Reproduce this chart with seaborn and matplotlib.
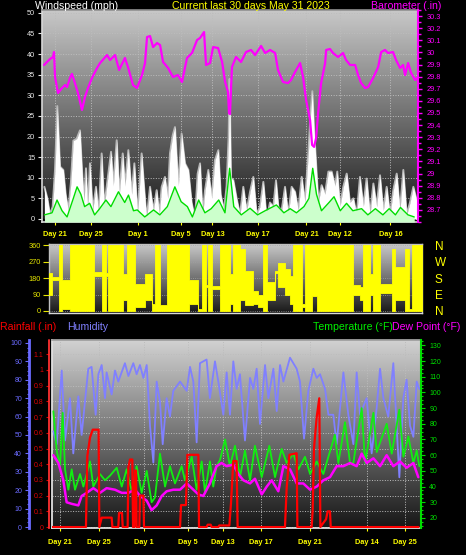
import numpy as np
import matplotlib
matplotlib.use("Agg")
import matplotlib.pyplot as plt
import seaborn as sns
from matplotlib.colors import LinearSegmentedColormap
from matplotlib.ticker import MultipleLocator

# ---------------- data ----------------
top_tick_days = [1.04, 3.9, 7.66, 11.1, 13.6, 17.2, 21.1, 23.8, 27.8]
top_tick_labels = ["Day 21", "Day 25", "Day 1", "Day 5", "Day 13", "Day 17", "Day 21", "Day 12", "Day 16"]
bot_tick_days = [0.65, 3.8, 7.5, 11.06, 13.9, 17.0, 21.0, 25.6, 28.7]
bot_tick_labels = ["Day 21", "Day 25", "Day 1", "Day 5", "Day 13", "Day 17", "Day 21", "Day 14", "Day 25"]

gust_day = [0.19, 0.43, 0.64, 0.85, 1.04, 1.22, 1.33, 1.44, 1.70, 1.89, 2.10, 2.31, 2.50, 2.77, 3.03, 3.19,
            3.35, 3.51, 3.64, 3.83, 4.04, 4.31, 4.52, 4.76, 4.97, 5.16, 5.51, 5.69, 5.96, 6.17, 6.44, 6.62,
            6.89, 7.15, 7.37, 7.63, 7.95, 8.14, 8.35, 8.62, 8.88, 9.15, 9.36, 9.55, 9.81, 10.03, 10.21,
            10.43, 10.61, 10.88, 11.14, 11.41, 11.68, 11.94, 12.21, 12.42, 12.61, 12.82, 13.01, 13.27,
            13.54, 13.80, 14.07, 14.26, 14.52, 14.73, 14.89, 14.97, 15.08, 15.27, 15.53, 15.80, 16.06,
            16.33, 16.60, 16.86, 17.13, 17.39, 17.66, 17.93, 18.19, 18.46, 18.67, 18.86, 19.12, 19.39,
            19.65, 19.92, 20.19, 20.45, 20.72, 20.98, 21.25, 21.44, 21.57, 21.70, 21.86, 22.05, 22.31,
            22.58, 22.85, 23.11, 23.38, 23.56, 23.78, 24.04, 24.31, 24.57, 24.84, 25.11, 25.37, 25.64,
            25.90, 26.17, 26.44, 26.70, 26.97, 27.23, 27.50, 27.77, 28.03, 28.30, 28.56, 28.83, 29.10,
            29.36, 29.63, 29.89]
gust_mph = [7.8, 5, 1, 3, 12, 27.4, 20, 12.7, 11.9, 6, 2, 9, 19, 19.5, 21.5, 12,
            4, 12.3, 2, 13.5, 2, 7.8, 1, 15.9, 3, 7.8, 16.3, 8, 19.1, 6, 15.9, 8,
            16.7, 6, 13.5, 1, 15.9, 8, 0, 7.8, 2, 7, 1, 7.8, 10.2, 5, 15.9,
            20.3, 22.3, 8, 20.7, 13.5, 11.9, 4, 0, 11, 13.5, 1, 7, 11.9,
            5, 14.3, 16.7, 6, 2, 8, 20, 34, 10, 9.4, 5, 1, 7.8,
            2, 6.6, 10.2, 1, 3, 9, 0, 4, 3, 9.4, 3, 2, 7.8,
            1, 7.8, 6.6, 2, 10.2, 4, 15.9, 26, 31, 22, 14, 4, 8.2,
            6, 11.5, 11.5, 8, 11.5, 3, 7.8, 11, 4, 5, 1, 10.2, 3,
            9.8, 1, 8.6, 3, 10.6, 2, 7.8, 1, 7, 11, 2, 11.9, 1,
            4, 7.8, 4.6]

speed_day = [0.2, 0.8, 1.2, 1.6, 2.0, 2.5, 2.8, 3.1, 3.4, 3.8, 4.2, 4.6, 5.1, 5.5, 6.1, 6.6, 6.9, 7.3,
             7.6, 8.2, 8.9, 9.4, 10.0, 10.6, 11.1, 11.6, 12.0, 12.5, 13.0, 13.5, 14.1, 14.6, 14.97, 15.3,
             15.9, 16.6, 17.2, 17.8, 18.7, 19.3, 19.8, 20.3, 20.9, 21.3, 21.6, 21.9, 22.3, 22.9, 23.3,
             23.8, 24.3, 24.8, 25.5, 26.0, 26.6, 27.2, 27.7, 28.2, 28.6, 29.2, 29.7]
speed_mph = [1, 1.5, 4.6, 2, 0.5, 5, 7.8, 6, 3, 3.8, 1, 2.5, 4.6, 3, 6.6, 4, 5.8, 2,
             2.2, 0.5, 2.2, 1, 3, 7.8, 4.2, 3, 0.5, 4.6, 1.5, 2.5, 4.6, 1.5, 12.3, 3,
             1, 2.6, 1, 2, 3.4, 1.5, 2.5, 1.5, 3, 5, 12.3, 6, 2, 4, 5.4,
             2, 3.8, 2, 2.5, 1, 2.5, 1, 2.5, 1, 2.8, 1, 0.5]

baro_day = [0.16, 0.40, 0.64, 0.88, 0.96, 1.04, 1.28, 1.60, 1.84, 2.0, 2.23, 2.39, 2.55, 2.87, 3.19, 3.43,
            3.67, 3.99, 4.39, 4.63, 5.19, 5.43, 5.83, 6.15, 6.62, 6.86, 7.26, 7.58, 7.98, 8.22, 8.38, 8.62,
            8.86, 9.18, 9.42, 9.66, 10.06, 10.45, 10.85, 11.17, 11.57, 11.97, 12.37, 12.61, 12.93, 13.09,
            13.41, 13.65, 14.05, 14.37, 14.61, 14.84, 14.92, 15.0, 15.1, 15.16, 15.48, 15.88, 16.28, 16.68,
            17.0, 17.48, 17.80, 18.20, 18.60, 18.83, 19.23, 19.63, 19.87, 20.19, 20.59, 20.83, 21.07, 21.39,
            21.55, 21.71, 21.87, 22.03, 22.27, 22.59, 22.67, 22.98, 23.22, 23.62, 24.02, 24.26, 24.58, 24.98,
            25.22, 25.46, 25.78, 26.02, 26.42, 26.82, 27.06, 27.37, 27.61, 28.01, 28.25, 28.57, 28.81, 28.97,
            29.21, 29.45, 29.77, 29.93]
baro_inhg = [29.896, 29.921, 29.945, 29.962, 30.003, 29.797, 29.665, 29.706, 29.731, 29.714, 29.789, 29.822,
             29.772, 29.665, 29.525, 29.632, 29.706, 29.789, 29.871, 29.912, 29.978, 29.937, 29.978, 29.855,
             29.954, 29.879, 29.731, 29.706, 29.813, 29.912, 30.127, 30.135, 30.044, 30.077, 30.061, 29.921,
             29.871, 29.797, 29.813, 29.756, 29.954, 29.995, 30.102, 30.119, 30.168, 29.896, 29.912, 30.044,
             30.036, 29.921, 29.756, 29.673, 29.5, 29.49, 29.75, 29.88, 29.962, 29.921, 30.003, 30.02,
             29.978, 30.053, 29.995, 30.02, 29.995, 29.855, 29.756, 29.747, 29.772, 29.838, 29.912, 29.797,
             29.607, 29.442, 29.236, 29.22, 29.294, 29.5, 29.747, 29.912, 30.02, 30.028, 29.995, 29.962,
             29.995, 29.937, 29.896, 29.896, 29.813, 29.747, 29.706, 29.714, 29.789, 29.879, 30.003, 30.02,
             29.995, 30.003, 29.937, 29.871, 29.896, 29.813, 29.912, 29.83, 29.772, 29.789]

dir_start = [0, 0.27, 0.80, 1.07, 1.69, 3.65, 4.24, 4.56, 4.72, 5.79, 5.95, 6.25, 6.92, 7.72, 8.26, 8.53,
             8.93, 9.46, 11.26, 12.01, 12.28, 12.60, 12.82, 13.08, 13.75, 14.56, 14.77, 15.36, 15.76, 16.43,
             16.83, 17.24, 17.51, 18.18, 18.45, 18.98, 19.38, 19.65, 20.32, 20.59, 21.13, 21.53, 24.48, 25.01,
             25.28, 25.82, 26.09, 26.62, 27.56, 27.82, 28.63, 28.98, 29.17]
dir_end_day = 30.0
dir_low = [90, 170, 0, 10, 0, 190, 0, 190, 0, 0, 60, 0, 20, 60, 0, 0,
           0, 0, 40, 0, 0, 130, 0, 120, 0, 40, 0, 60, 30, 40,
           20, 0, 60, 210, 130, 90, 40, 0, 20, 0, 80, 0, 90, 60,
           0, 90, 0, 100, 0, 60, 0, 0, 0]
dir_high = [210, 185, 360, 170, 360, 215, 360, 210, 360, 360, 200, 360, 150, 200, 40, 360,
            30, 360, 170, 10, 360, 140, 360, 135, 360, 200, 360, 340, 220, 110,
            90, 360, 160, 220, 260, 230, 190, 360, 40, 360, 360, 360, 140, 130,
            360, 200, 360, 150, 340, 240, 340, 10, 360]

hum_day = [0.11, 0.38, 0.79, 1.06, 1.46, 1.73, 2.14, 2.41, 2.95, 3.22, 3.55, 3.77, 4.04, 4.31, 4.44, 4.85,
           5.12, 5.39, 5.93, 6.21, 6.61, 6.88, 7.15, 7.43, 7.70, 7.97, 8.24, 8.51, 8.78, 9.0, 9.32, 9.59,
           9.86, 10.41, 10.95, 11.22, 11.49, 11.76, 12.03, 12.57, 12.84, 13.25, 13.52, 13.93, 14.20, 14.47,
           14.74, 15.01, 15.28, 15.69, 16.10, 16.37, 16.64, 16.91, 17.32, 17.59, 18.0, 18.27, 18.54, 18.81,
           19.35, 19.62, 19.89, 20.16, 20.49, 20.84, 21.25, 21.52, 21.79, 22.20, 22.47, 22.87, 23.14, 23.69,
           24.09, 24.5, 24.77, 25.04, 25.58, 25.99, 26.40, 26.67, 26.94, 27.34, 27.75, 28.24, 28.56, 28.83,
           29.11, 29.38, 29.65, 29.86]
hum_pct = [52, 45, 85, 47, 70, 40, 71, 50, 86, 87, 61, 83, 88, 70, 84, 72,
           85, 79, 89, 82, 89, 83, 88, 81, 88, 55, 35, 79, 68, 45, 70, 60,
           74, 79, 74, 87, 79, 46, 89, 91, 70, 90, 79, 61, 84, 61,
           90, 75, 83, 47, 81, 75, 86, 56, 88, 70, 86, 63, 88, 79,
           92, 89, 86, 79, 48, 74, 86, 81, 83, 75, 61, 61, 45, 84,
           61, 45, 84, 61, 70, 40, 65, 86, 70, 60, 89, 27, 70, 80,
           55, 49, 79, 75]

temp_day = [0.11, 0.38, 0.65, 0.87, 1.06, 1.33, 1.6, 1.87, 2.28, 2.55, 3.09, 3.36, 3.9, 4.31, 4.72, 5.26,
            5.67, 6.07, 6.48, 6.88, 7.29, 7.7, 8.1, 8.37, 8.78, 9.19, 9.59, 10.0, 10.54, 10.81, 11.36,
            11.76, 12.17, 12.44, 12.84, 13.11, 13.38, 13.66, 14.07, 14.47, 14.88, 15.28, 15.69, 16.1,
            16.5, 17.05, 17.67, 18.13, 18.67, 19.08, 19.62, 20.03, 20.57, 20.98, 21.52, 22.06, 22.47,
            23.0, 23.28, 23.82, 24.23, 24.5, 25.18, 25.45, 26.13, 26.4, 27.21, 27.62, 28.24, 28.57,
            28.97, 29.38, 29.65, 29.86]
temp_f = [88, 63, 53, 87, 51, 38, 51, 38, 48, 40, 56, 40, 48, 44, 47, 52,
          40, 51, 37, 53, 36, 50, 30, 33, 61, 40, 53, 42, 53, 44, 59,
          38, 56, 36, 56, 40, 53, 57, 70, 53, 66, 46, 63, 44,
          66, 46, 66, 46, 64, 55, 61, 51, 59, 48, 56, 48, 59,
          73, 55, 81, 55, 55, 90, 55, 87, 62, 80, 61, 89, 59,
          72, 55, 63, 53]

dew_day = [0.11, 0.52, 0.92, 1.19, 1.60, 2.14, 2.41, 2.82, 3.36, 3.9, 4.44, 5.12, 5.67, 6.21, 6.75, 7.16,
           7.7, 8.1, 8.51, 8.92, 9.32, 9.86, 10.41, 10.95, 11.36, 11.9, 12.3, 12.57, 12.84, 13.38, 13.79,
           14.2, 14.74, 15.15, 15.56, 16.1, 16.5, 17.05, 17.46, 17.86, 18.4, 18.81, 19.35, 19.89, 20.43,
           20.98, 21.52, 22.06, 22.6, 23.14, 23.69, 24.23, 24.77, 25.18, 25.58, 26.13, 26.67, 27.21,
           27.75, 28.29, 28.83, 29.38, 29.78]
dew_f = [60, 55, 44, 30, 29, 28, 34, 36, 39, 36, 39, 38, 36, 36, 38, 34,
         31, 25, 28, 34, 37, 38, 38, 42, 39, 35, 34, 38, 42, 53, 55,
         53, 54, 48, 44, 42, 45, 35, 40, 44, 37, 53, 51, 42, 42,
         38, 40, 44, 46, 53, 53, 55, 53, 61, 55, 58, 53, 60,
         53, 56, 52, 55, 46]

rain_day = [0, 2.76, 2.87, 3.09, 3.31, 3.79, 3.85, 4.04, 4.85, 4.91, 5.39, 5.45, 5.69, 5.75, 6.15, 6.21,
            6.34, 6.53, 6.59, 6.69, 6.75, 6.83, 6.88, 7.1, 7.15, 7.43, 7.48, 10.41, 10.49, 10.89, 11.0,
            11.9, 11.95, 12.57, 12.66, 12.9, 12.98, 13.52, 13.6, 14.42, 14.55, 14.74, 15.01, 15.09, 18.94,
            19.08, 19.3, 19.89, 19.95, 21.11, 21.19, 21.3, 21.52, 21.73, 21.82, 22.0, 22.28, 22.41, 22.6,
            22.66, 29.8]
rain_in = [0, 0, 0.45, 0.57, 0.62, 0.62, 0, 0.06, 0.06, 0, 0, 0.09, 0.09, 0, 0, 0.38,
           0.43, 0.43, 0, 0, 0.36, 0.36, 0, 0, 0.2, 0.2, 0, 0, 0.14, 0.14, 0.46,
           0.46, 0, 0, 0.015, 0.015, 0, 0, 0.01, 0.01, 0.15, 0.42, 0.42, 0, 0,
           0.25, 0.46, 0.47, 0, 0, 0.1, 0.5, 0.7, 0.82, 0, 0.02, 0.05, 0.1, 0.1,
           0, 0]

# ---------------- styling ----------------
sns.set_style("dark")
plt.rcParams["font.family"] = ["Liberation Sans", "DejaVu Sans"]
plt.rcParams["axes.unicode_minus"] = False

W, H = 466, 555
fig = plt.figure(figsize=(W / 100, H / 100), dpi=100, facecolor="black")


def px_axes(x0, y0, x1, y1):
    return fig.add_axes([x0 / W, 1 - y1 / H, (x1 - x0) / W, (y1 - y0) / H])


def gradient(ax, top, bottom):
    cmap = LinearSegmentedColormap.from_list("g", [bottom, top])
    grad = np.linspace(0, 1, 256).reshape(-1, 1)
    ax.imshow(grad, extent=[0, 1, 0, 1], transform=ax.transAxes, origin="lower",
              cmap=cmap, aspect="auto", zorder=0, interpolation="bilinear")


def clean_twin(ax):
    for s in ax.spines.values():
        s.set_visible(False)
    ax.grid(False)
    ax.set_facecolor("none")


TICK_FS = 5.3
YELLOW = "#ffff00"
WIND_MIN, WIND_MAX = -0.73, 50.7

# ---------------- top panel: wind + barometer ----------------
ax1 = px_axes(42, 10, 418, 222)
ax1.set_facecolor("black")
gradient(ax1, "#c8c8c8", "#181818")
ax1.set_axisbelow(True)
ax1.axhline(0, color="black", ls="--", lw=1.0, zorder=1.5)
ax1.plot(gust_day, gust_mph, color="#b8b8b8", lw=1.4, zorder=1.8)
ax1.fill_between(gust_day, gust_mph, 0, color="white", lw=0, zorder=2)
ax1.fill_between(speed_day, speed_mph, WIND_MIN, color="#ccffcc", lw=0, zorder=3)
sns.lineplot(x=np.array(speed_day), y=np.array(speed_mph), ax=ax1, color="#00dd00", lw=1.0, zorder=4)
ax1.set_xlim(0, 30)
ax1.set_ylim(WIND_MIN, WIND_MAX)
ax1.set_yticks(np.arange(0, 51, 5))
ax1.set_xticks(top_tick_days)
ax1.set_xticklabels(top_tick_labels)
ax1.set_xlabel("")
ax1.set_ylabel("")
ax1.tick_params(axis="y", colors="#e8e8e8", labelsize=TICK_FS, length=3, width=0.8, pad=2, left=True)
ax1.tick_params(axis="x", colors=YELLOW, labelsize=TICK_FS, length=2, width=0.8, pad=4.5, bottom=True)
for t in ax1.xaxis.get_ticklines():
    t.set_color("#909090")
for lab in ax1.get_xticklabels():
    lab.set_fontweight("bold")
    lab.set_color(YELLOW)
ax1.grid(True, color="#bdbdbd", ls=":", lw=0.7)
for k, s in ax1.spines.items():
    s.set_visible(True)
    s.set_color("#d8d8d8" if k in ("left", "bottom") else "#909090")
    s.set_linewidth(1.2)

ax1b = ax1.twinx()
clean_twin(ax1b)
sns.lineplot(x=np.array(baro_day), y=np.array(baro_inhg), ax=ax1b, color="#ff00ff", lw=1.6, zorder=5)
ax1b.set_ylim(28.60, 30.35)
bt = np.round(np.arange(28.7, 30.31, 0.1), 1)
ax1b.set_yticks(bt)
ax1b.set_yticklabels([("%g" % v) for v in bt])
ax1b.yaxis.set_minor_locator(MultipleLocator(0.05))
ax1b.set_ylabel("")
ax1b.spines["right"].set_visible(True)
ax1b.spines["right"].set_color("#ff00ff")
ax1b.spines["right"].set_linewidth(1.5)
ax1b.tick_params(axis="y", which="both", colors="#ff00ff", labelsize=TICK_FS, right=True, length=3, width=1, pad=3)
ax1b.tick_params(axis="y", which="minor", length=2)

# ---------------- middle panel: wind direction ----------------
ax2 = px_axes(49, 244, 422, 313)
ax2.set_facecolor("black")
gradient(ax2, "#c8c8c8", "#181818")
ax2.set_axisbelow(True)
dx = dir_start + [dir_end_day]
ax2.fill_between(dx, dir_low + [dir_low[-1]], dir_high + [dir_high[-1]], step="post",
                 color=YELLOW, lw=0.6, edgecolor=YELLOW, zorder=3)
ax2.set_xlim(0, 30)
ax2.set_ylim(-11, 366)
ax2.set_yticks([0, 90, 180, 270, 360])
ax2.set_xticks(top_tick_days)
ax2.set_xticklabels([])
ax2.tick_params(axis="y", colors="#e6e600", labelsize=TICK_FS, length=4, width=0.8, pad=2, left=True)
ax2.tick_params(axis="x", length=0)
ax2.grid(True, axis="y", color="#a0a0a0", ls=":", lw=0.6)
ax2.grid(False, axis="x")
for k, s in ax2.spines.items():
    s.set_visible(True)
    s.set_color("#c0c0c0" if k != "bottom" else "#d8d8d8")
    s.set_linewidth(1.0)

ax2b = ax2.twinx()
clean_twin(ax2b)
ax2b.set_ylim(-11, 366)
ax2b.set_yticks([360, 270, 180, 90, 0])
ax2b.set_yticklabels(["N", "W", "S", "E", "N"])
ax2b.tick_params(axis="y", colors=YELLOW, labelsize=8.5, length=0, pad=9)

# ---------------- bottom panel: rain, humidity, temperature, dew point ----------------
ax3 = px_axes(52, 340, 421, 528)
ax3.set_facecolor("black")
gradient(ax3, "#d2d2d2", "#161616")
ax3.set_axisbelow(True)
ax3.set_xlim(0, 30)
ax3.set_ylim(-0.006, 1.191)
ax3.set_yticks(np.arange(0, 1.15, 0.1))
ax3.set_yticklabels([])
ax3.tick_params(axis="y", length=0)
ax3.set_xticks(bot_tick_days)
ax3.set_xticklabels(bot_tick_labels)
ax3.tick_params(axis="x", colors=YELLOW, labelsize=TICK_FS, length=2, width=0.8, pad=6, bottom=True)
for t in ax3.xaxis.get_ticklines():
    t.set_color("#909090")
for lab in ax3.get_xticklabels():
    lab.set_fontweight("bold")
    lab.set_color(YELLOW)
ax3.grid(True, color="#bdbdbd", ls=":", lw=0.7)
for k, s in ax3.spines.items():
    s.set_visible(k in ("left", "bottom", "top"))
    s.set_color("#e0e0e0" if k != "top" else "#a0a0a0")
    s.set_linewidth(1.3)

# humidity
ax3h = ax3.twinx()
clean_twin(ax3h)
sns.lineplot(x=np.array(hum_day), y=np.array(hum_pct), ax=ax3h, color="#8080ff", lw=1.3)
ax3h.set_ylim(-0.54, 101.6)
ax3h.set_yticks(np.arange(0, 101, 10))
ax3h.yaxis.set_minor_locator(MultipleLocator(2.5))
ax3h.yaxis.set_ticks_position("left")
ax3h.yaxis.set_label_position("left")
ax3h.spines["left"].set_visible(True)
ax3h.spines["left"].set_position(("axes", -0.0623))
ax3h.spines["left"].set_color("#6a6aff")
ax3h.spines["left"].set_linewidth(2)
ax3h.set_ylabel("")
ax3h.tick_params(axis="y", which="both", colors="#6a6aff", labelsize=5.0, length=3, width=0.8, pad=2)
ax3h.tick_params(axis="y", which="minor", length=1.5)

# temperature + dew point
ax3t = ax3.twinx()
clean_twin(ax3t)
sns.lineplot(x=np.array(temp_day), y=np.array(temp_f), ax=ax3t, color="#11ee11", lw=1.3)
sns.lineplot(x=np.array(dew_day), y=np.array(dew_f), ax=ax3t, color="#ff00ff", lw=1.8)
ax3t.set_ylim(13.6, 133.4)
ax3t.set_yticks(np.arange(20, 131, 10))
ax3t.yaxis.set_minor_locator(MultipleLocator(2.5))
ax3t.spines["right"].set_visible(True)
ax3t.spines["right"].set_color("#00dd00")
ax3t.spines["right"].set_linewidth(1.5)
ax3t.set_ylabel("")
ax3t.tick_params(axis="y", which="both", colors="#00dd00", labelsize=5.0, length=3, width=0.8, pad=3, right=True)
ax3t.tick_params(axis="y", which="minor", length=1.5)

# rain
ax3r = ax3.twinx()
clean_twin(ax3r)
sns.lineplot(x=np.array(rain_day), y=np.array(rain_in), ax=ax3r, color="#ff0000", lw=1.6, sort=False,
             estimator=None)
ax3r.set_ylim(-0.006, 1.191)
rt = np.round(np.arange(0, 1.15, 0.1), 1)
ax3r.set_yticks(rt)
ax3r.set_yticklabels([("%g" % v) for v in rt])
ax3r.yaxis.set_ticks_position("left")
ax3r.yaxis.set_label_position("left")
ax3r.spines["left"].set_visible(True)
ax3r.spines["left"].set_position(("axes", -0.008))
ax3r.spines["left"].set_color("#ff3030")
ax3r.spines["left"].set_linestyle((0, (2, 1)))
ax3r.spines["left"].set_linewidth(1.3)
ax3r.set_ylabel("")
ax3r.tick_params(axis="y", colors="#dd0000", labelsize=5.0, length=2.5, width=0.8, pad=1.5)

for a in (ax1, ax1b, ax2, ax2b, ax3, ax3h, ax3t, ax3r):
    a.set_xlabel("")
    leg = a.get_legend()
    if leg is not None:
        leg.remove()

# ---------------- titles ----------------
TFS = 7.6
fig.text(35 / W, 1 - 6 / H, "Windspeed (mph)", color="white", fontsize=TFS, va="center", ha="left")
fig.text(172 / W, 1 - 6 / H, "Current last 30 days May 31 2023", color=YELLOW, fontsize=TFS, va="center", ha="left")
fig.text(371 / W, 1 - 6 / H, "Barometer (.in)", color="#ff00ff", fontsize=TFS, va="center", ha="left")
fig.text(0 / W, 1 - 327 / H, "Rainfall (.in)", color="#ff0000", fontsize=TFS, va="center", ha="left")
fig.text(67 / W, 1 - 327 / H, "Humidity", color="#8080ff", fontsize=TFS, va="center", ha="left")
fig.text(313 / W, 1 - 327 / H, "Temperature (°F)", color="#00ee00", fontsize=TFS, va="center", ha="left")
fig.text(392 / W, 1 - 327 / H, "Dew Point (°F)", color="#ff00ff", fontsize=TFS, va="center", ha="left")

fig.savefig("out.png", dpi=100, facecolor="black")
